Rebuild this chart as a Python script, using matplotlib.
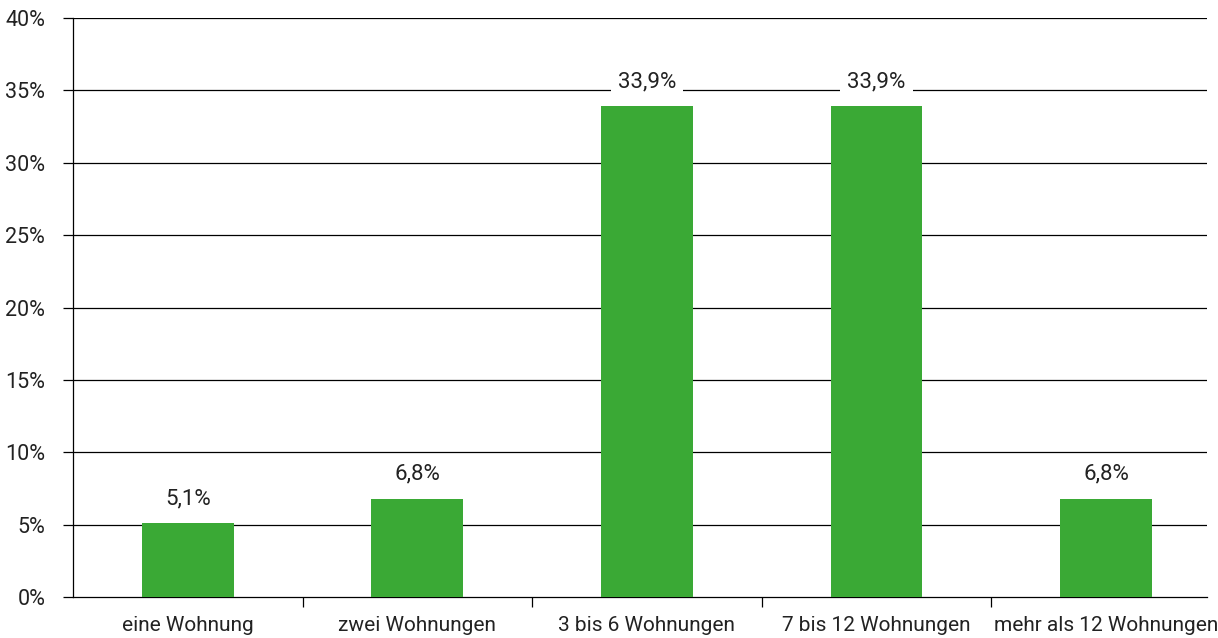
import matplotlib
matplotlib.use("Agg")
import matplotlib.pyplot as plt
from matplotlib.ticker import FixedLocator, FuncFormatter

categories = ["eine Wohnung", "zwei Wohnungen", "3 bis 6 Wohnungen",
              "7 bis 12 Wohnungen", "mehr als 12 Wohnungen"]
shares = [5.1, 6.8, 33.9, 33.9, 6.8]
y_ticks = [0, 5, 10, 15, 20, 25, 30, 35, 40]

plt.rcParams["font.family"] = ["Roboto", "DejaVu Sans"]
TEXT = "#222222"
FS = 15

W, H = 1218, 638
fig = plt.figure(figsize=(W / 100, H / 100), dpi=100)
ax = fig.add_axes([73 / W, 41 / H, (1207 - 73) / W, (597 - 18) / H])

x = list(range(len(categories)))
ax.bar(x, shares, width=0.40, color="#3aa935", zorder=3)

ax.set_xlim(-0.5, 4.44)
ax.set_ylim(0, 40)

# horizontal grid
for t in y_ticks[1:]:
    ax.axhline(t, color="black", linewidth=0.9, zorder=1)

ax.yaxis.set_major_locator(FixedLocator(y_ticks))
ax.yaxis.set_major_formatter(FuncFormatter(lambda v, p: f"{v:.0f}%"))
ax.tick_params(axis="y", length=7, width=0.9, pad=13, labelsize=FS + 0.5,
               color="black", labelcolor=TEXT)

ax.set_xticks(x)
ax.set_xticklabels(categories)
ax.tick_params(axis="x", which="major", length=0, pad=14, labelsize=FS,
               labelcolor=TEXT)
ax.xaxis.set_minor_locator(FixedLocator([0.5, 1.5, 2.5, 3.5]))
ax.tick_params(axis="x", which="minor", length=7, width=0.9, direction="out")

for s in ["top", "right"]:
    ax.spines[s].set_visible(False)
for s in ["left", "bottom"]:
    ax.spines[s].set_linewidth(0.9)

# value labels with white background
for xi, v in zip(x, shares):
    ax.annotate(f"{v:.1f}%".replace(".", ","), (xi, v), xytext=(0, 10),
                textcoords="offset points", ha="center", va="bottom",
                fontsize=FS + 1, color=TEXT, zorder=4,
                bbox=dict(boxstyle="square,pad=0.32", fc="white", ec="none"))

fig.savefig("out.png", dpi=100)
